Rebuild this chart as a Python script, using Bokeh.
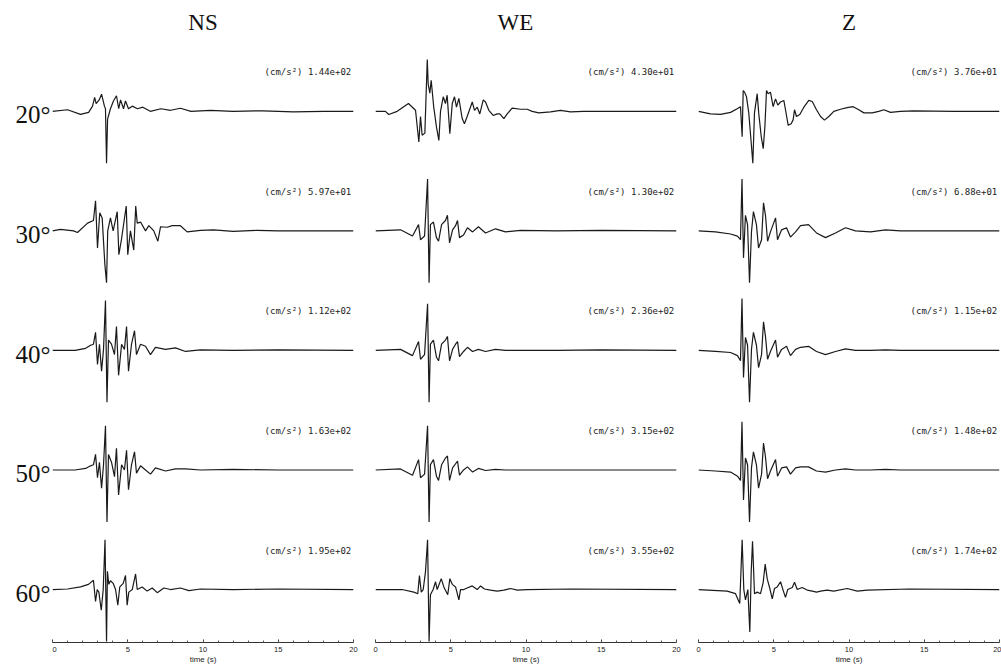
from bokeh.plotting import figure
from bokeh.layouts import row
from bokeh.models import Range1d, FixedTicker
from bokeh.core.properties import value
from bokeh.embed import file_html
from bokeh.resources import INLINE

# ---------------- data ----------------
COMPONENTS = ["NS", "WE", "Z"]
ANGLES = ["20°", "30°", "40°", "50°", "60°"]
TICKS = [0, 5, 10, 15, 20]
UNIT = "(cm/s²)"
NS_PEAKS = ["1.44e+02", "5.97e+01", "1.12e+02", "1.63e+02", "1.95e+02"]
WE_PEAKS = ["4.30e+01", "1.30e+02", "2.36e+02", "3.15e+02", "3.55e+02"]
Z_PEAKS = ["3.76e+01", "6.88e+01", "1.15e+02", "1.48e+02", "1.74e+02"]

# traces: time (s) and amplitude normalised to the peak value
NS20_T = [0, 1.0, 1.86, 2.4, 2.66, 2.8, 2.9, 3.1, 3.26, 3.45, 3.52, 3.59, 3.66, 3.85, 4.05, 4.25, 4.4, 4.52, 4.72, 4.85, 5.05, 5.3, 5.65, 6.0, 6.5, 7.2, 7.85, 8.5, 9.2, 10.5, 12.0, 14.0, 16.0, 18.0, 20.0]
NS20_A = [0, 0.03, -0.06, -0.02, 0.1, 0.27, 0.15, 0.22, 0.33, 0.1, 0.05, -1.0, -0.15, 0.05, 0.2, 0.3, 0.05, 0.22, 0.05, 0.2, 0.05, 0.1, 0.05, 0.08, 0.0, 0.05, 0.02, 0.06, 0.0, 0.02, 0.0, 0.01, -0.01, 0.0, 0.0]
NS30_T = [0, 0.53, 1.4, 1.66, 2.33, 2.72, 2.86, 2.99, 3.14, 3.3, 3.48, 3.59, 3.67, 3.85, 4.03, 4.3, 4.41, 4.58, 4.9, 5.0, 5.18, 5.4, 5.53, 5.63, 5.85, 6.18, 6.4, 6.73, 7.0, 7.18, 7.62, 7.95, 8.5, 8.95, 9.83, 10.7, 12.0, 13.6, 15.0, 17.0, 20.0]
NS30_A = [0, 0.03, 0.0, -0.03, 0.15, 0.2, 0.58, -0.33, 0.35, 0.25, -0.65, -1.0, 0.0, 0.25, 0.0, 0.37, -0.46, -0.17, 0.48, -0.46, 0.0, -0.37, 0.48, 0.15, 0.17, 0.0, 0.1, 0.0, -0.2, 0.08, 0.07, 0.1, 0.1, -0.02, 0.01, 0.02, -0.01, 0.01, 0.0, 0.0, 0.0]
NS40_T = [0, 1.5, 2.2, 2.53, 2.72, 2.86, 2.99, 3.12, 3.26, 3.39, 3.52, 3.62, 3.72, 3.92, 4.12, 4.25, 4.39, 4.59, 4.78, 4.92, 5.05, 5.25, 5.45, 5.58, 5.85, 6.18, 6.51, 6.84, 7.51, 8.17, 8.84, 9.83, 12.0, 15.0, 20.0]
NS40_A = [0, 0.0, 0.04, 0.1, 0.12, 0.35, -0.27, 0.12, -0.4, 0.02, 0.96, -1.0, 0.2, 0.12, -0.08, 0.46, -0.48, 0.12, 0.02, 0.46, -0.4, 0.12, 0.38, -0.08, 0.12, 0.08, -0.08, 0.06, 0.02, 0.05, -0.02, 0.01, 0.0, 0.01, 0.0]
NS50_T = [0, 1.5, 2.2, 2.53, 2.72, 2.86, 2.99, 3.12, 3.26, 3.39, 3.52, 3.62, 3.72, 3.92, 4.12, 4.25, 4.39, 4.59, 4.78, 4.92, 5.05, 5.25, 5.45, 5.58, 5.85, 6.18, 6.51, 6.84, 7.51, 8.17, 8.84, 9.83, 12.0, 15.0, 20.0]
NS50_A = [0, 0.0, 0.03, 0.08, 0.1, 0.3, -0.15, 0.15, -0.35, 0.1, 0.85, -1.0, 0.3, 0.15, -0.13, 0.42, -0.48, 0.1, 0.0, 0.38, -0.38, 0.1, 0.35, -0.06, 0.08, 0.0, -0.08, 0.04, -0.02, 0.02, 0.02, 0.0, 0.01, 0.0, 0.0]
NS60_T = [0, 1.0, 1.86, 2.39, 2.72, 2.86, 2.97, 3.08, 3.24, 3.37, 3.49, 3.59, 3.65, 3.74, 3.85, 4.03, 4.19, 4.34, 4.47, 4.7, 4.85, 4.96, 5.07, 5.3, 5.52, 5.63, 5.96, 6.29, 6.63, 6.96, 7.4, 7.84, 8.5, 9.06, 9.83, 12.0, 15.0, 20.0]
NS60_A = [0, 0.01, 0.05, 0.1, 0.18, -0.23, 0.0, -0.05, -0.4, 0.0, 0.96, -1.0, 0.35, 0.1, 0.17, 0.12, 0.0, -0.3, 0.05, 0.12, 0.27, -0.3, -0.05, 0.0, 0.3, 0.0, 0.05, -0.03, 0.03, -0.06, 0.03, 0.0, 0.03, -0.02, 0.01, 0.0, 0.01, 0.0]

WE20_T = [0, 0.66, 0.88, 1.44, 2.19, 2.66, 2.88, 2.99, 3.1, 3.28, 3.44, 3.5, 3.61, 3.7, 3.87, 4.05, 4.21, 4.32, 4.5, 4.65, 4.76, 4.94, 5.1, 5.25, 5.38, 5.54, 5.76, 5.91, 6.09, 6.43, 6.58, 6.76, 6.93, 7.16, 7.31, 7.53, 7.82, 8.09, 8.26, 8.53, 8.75, 9.08, 9.64, 10.08, 10.41, 10.85, 11.63, 12.29, 12.96, 13.82, 16.0, 20.0]
WE20_A = [0, 0.0, -0.06, 0.0, 0.15, 0.02, -0.59, -0.1, -0.46, -0.42, 1.0, 0.53, 0.35, 0.6, 0.08, -0.3, -0.56, 0.0, 0.28, 0.15, 0.31, -0.43, 0.15, 0.28, 0.08, 0.25, -0.14, -0.24, -0.1, 0.18, 0.02, 0.08, -0.05, 0.22, 0.18, 0.02, -0.08, -0.05, -0.05, -0.14, -0.05, 0.06, 0.04, 0.04, 0.0, -0.03, -0.01, 0.02, -0.01, 0.0, 0.0, 0.0]
WE30_T = [0, 1.66, 2.46, 2.86, 2.99, 3.26, 3.46, 3.56, 3.65, 3.85, 4.05, 4.19, 4.39, 4.65, 4.78, 4.92, 5.12, 5.32, 5.45, 5.58, 5.85, 6.11, 6.45, 6.84, 7.31, 7.97, 8.64, 9.64, 12.0, 15.0, 20.0]
WE30_A = [0, 0.02, -0.1, 0.12, -0.17, -0.1, 1.0, -1.0, 0.12, 0.17, -0.13, -0.2, 0.12, 0.2, 0.3, -0.23, 0.02, 0.1, 0.2, -0.13, -0.08, 0.06, -0.02, 0.08, -0.04, 0.04, -0.02, 0.01, 0.0, 0.01, 0.0]
WE40_T = [0, 1.66, 2.46, 2.86, 2.99, 3.26, 3.46, 3.56, 3.65, 3.85, 4.05, 4.19, 4.39, 4.65, 4.78, 4.92, 5.12, 5.32, 5.45, 5.58, 5.85, 6.11, 6.45, 6.84, 7.31, 7.97, 8.64, 9.64, 12.0, 15.0, 20.0]
WE40_A = [0, 0.02, -0.1, 0.17, -0.17, -0.08, 0.9, -1.0, 0.12, 0.2, -0.13, -0.2, 0.12, 0.2, 0.27, -0.2, 0.02, 0.12, 0.17, -0.12, -0.02, 0.06, -0.02, 0.02, -0.02, 0.02, 0.0, 0.0, 0.0, 0.01, 0.0]
WE50_T = [0, 1.66, 2.46, 2.86, 2.99, 3.26, 3.46, 3.56, 3.65, 3.85, 4.05, 4.19, 4.39, 4.65, 4.78, 4.92, 5.12, 5.32, 5.45, 5.58, 5.85, 6.11, 6.45, 6.84, 7.31, 7.97, 8.64, 9.64, 12.0, 15.0, 20.0]
WE50_A = [0, 0.02, -0.1, 0.2, -0.15, -0.08, 0.85, -1.0, 0.1, 0.2, -0.12, -0.2, 0.1, 0.23, 0.27, -0.2, 0.04, 0.12, 0.17, -0.1, 0.0, 0.06, -0.04, 0.03, -0.01, 0.01, 0.0, 0.0, 0.0, 0.0, 0.0]
WE60_T = [0, 1.77, 2.55, 2.81, 2.92, 3.04, 3.17, 3.32, 3.46, 3.56, 3.65, 3.83, 3.99, 4.1, 4.37, 4.54, 4.8, 4.94, 5.1, 5.32, 5.54, 5.65, 5.87, 6.09, 6.43, 6.76, 6.98, 7.24, 7.64, 8.09, 8.53, 8.97, 9.42, 10.08, 13.0, 20.0]
WE60_A = [0, 0.0, -0.05, -0.08, 0.27, -0.05, 0.0, 0.34, 0.96, -1.0, -0.1, 0.0, 0.15, 0.0, 0.21, 0.05, -0.1, 0.21, 0.1, 0.05, -0.2, 0.0, 0.0, 0.03, 0.07, 0.0, 0.07, 0.01, -0.01, -0.03, -0.01, 0.02, -0.01, 0.0, 0.01, 0.0]

Z20_T = [0, 0.8, 1.46, 2.13, 2.57, 2.79, 2.9, 2.97, 3.06, 3.19, 3.34, 3.5, 3.61, 3.72, 3.9, 4.0, 4.17, 4.3, 4.41, 4.52, 4.63, 4.78, 4.96, 5.12, 5.27, 5.45, 5.67, 5.78, 5.96, 6.16, 6.29, 6.38, 6.51, 6.73, 7.0, 7.33, 7.56, 7.84, 8.11, 8.37, 8.66, 8.99, 9.44, 9.88, 10.28, 10.65, 10.99, 11.54, 11.98, 12.31, 12.76, 13.42, 14.29, 17.0, 20.0]
Z20_A = [0, -0.05, -0.06, -0.02, 0.05, 0.09, -0.49, 0.4, 0.37, 0.28, -0.03, -0.6, -1.0, -0.03, 0.34, -0.03, -0.49, -0.72, -0.3, 0.4, 0.34, 0.37, 0.09, 0.24, 0.12, 0.18, 0.21, 0.03, -0.27, -0.24, -0.16, 0.03, -0.1, -0.06, 0.08, 0.21, 0.19, 0.03, -0.1, -0.17, -0.1, 0.0, 0.04, 0.07, 0.09, 0.03, -0.03, -0.03, 0.0, 0.03, -0.02, 0.0, 0.01, 0.0, 0.0]
Z30_T = [0, 1.13, 2.13, 2.59, 2.79, 2.89, 2.99, 3.12, 3.26, 3.39, 3.52, 3.65, 3.85, 3.99, 4.19, 4.32, 4.45, 4.59, 4.78, 5.12, 5.25, 5.52, 5.85, 6.11, 6.45, 6.78, 7.31, 7.84, 8.44, 9.1, 9.77, 10.43, 11.43, 12.43, 13.42, 20.0]
Z30_A = [0, -0.02, -0.06, -0.1, -0.17, 1.0, -0.52, 0.3, 0.12, -1.0, -0.02, 0.37, 0.12, -0.33, -0.17, 0.54, 0.3, -0.2, -0.02, 0.25, -0.17, 0.02, 0.06, -0.12, -0.02, 0.1, 0.12, -0.04, -0.13, -0.04, 0.06, 0.0, -0.02, 0.02, 0.0, 0.0]
Z40_T = [0, 1.13, 2.13, 2.59, 2.79, 2.89, 2.99, 3.12, 3.26, 3.39, 3.52, 3.65, 3.85, 3.99, 4.19, 4.32, 4.45, 4.59, 4.78, 5.12, 5.25, 5.52, 5.85, 6.11, 6.45, 6.78, 7.31, 7.84, 8.44, 9.1, 9.77, 10.43, 11.43, 12.43, 13.42, 20.0]
Z40_A = [0, -0.02, -0.04, -0.1, -0.2, 1.0, -0.52, 0.25, 0.1, -1.0, 0.02, 0.35, 0.1, -0.33, -0.08, 0.55, 0.27, -0.17, -0.02, 0.2, -0.13, 0.02, 0.08, -0.1, 0.02, 0.06, 0.08, -0.02, -0.08, -0.02, 0.03, 0.0, 0.0, 0.01, 0.0, 0.0]
Z50_T = [0, 1.13, 2.13, 2.59, 2.79, 2.89, 2.99, 3.12, 3.26, 3.39, 3.52, 3.65, 3.85, 3.99, 4.19, 4.32, 4.45, 4.59, 4.78, 5.12, 5.25, 5.52, 5.85, 6.11, 6.45, 6.78, 7.31, 7.84, 8.44, 9.1, 9.77, 10.43, 11.43, 12.43, 13.42, 20.0]
Z50_A = [0, -0.02, -0.04, -0.12, -0.2, 0.93, -0.58, 0.23, 0.1, -1.0, 0.04, 0.35, 0.1, -0.35, -0.08, 0.52, 0.25, -0.17, -0.02, 0.2, -0.12, 0.04, 0.06, -0.08, 0.04, 0.06, 0.06, -0.02, -0.04, 0.0, 0.02, 0.0, 0.0, 0.01, 0.0, 0.0]
Z60_T = [0, 1.91, 2.46, 2.74, 2.9, 3.01, 3.12, 3.28, 3.41, 3.5, 3.59, 3.72, 3.9, 4.12, 4.3, 4.43, 4.57, 4.74, 4.9, 5.05, 5.23, 5.45, 5.63, 5.78, 5.93, 6.23, 6.38, 6.56, 6.89, 7.22, 7.56, 7.84, 8.11, 8.55, 8.99, 9.88, 10.55, 11.21, 14.0, 20.0]
Z60_A = [0, -0.03, -0.08, -0.27, 0.96, 0.0, -0.2, 0.0, -0.82, 0.33, 0.93, -0.08, -0.05, -0.08, 0.14, 0.49, 0.2, 0.02, -0.18, 0.02, 0.05, 0.15, -0.02, -0.15, 0.0, 0.04, 0.14, 0.0, 0.04, -0.01, -0.03, -0.05, -0.03, -0.01, -0.03, 0.02, -0.03, -0.01, 0.01, 0.0]

NS_TRACES = [(NS20_T, NS20_A), (NS30_T, NS30_A), (NS40_T, NS40_A), (NS50_T, NS50_A), (NS60_T, NS60_A)]
WE_TRACES = [(WE20_T, WE20_A), (WE30_T, WE30_A), (WE40_T, WE40_A), (WE50_T, WE50_A), (WE60_T, WE60_A)]
Z_TRACES = [(Z20_T, Z20_A), (Z30_T, Z30_A), (Z40_T, Z40_A), (Z50_T, Z50_A), (Z60_T, Z60_A)]

# ---------------- layout / style ----------------
H = 666
BOTTOM = 23
Y0, Y1 = -0.443, 4.927
SCALE = 0.434          # trace height of a normalised amplitude of 1
TITLE_Y = 4.743
LINE_COLOR = "#1a1a1a"
SANS = "Liberation Sans"
MONO = "DejaVu Sans Mono"
SERIF = "Liberation Serif"


def style_axis(p, hidden=False):
    ax = p.xaxis[0]
    ax.ticker = FixedTicker(ticks=TICKS, minor_ticks=list(range(0, 21)))
    ax.major_tick_in = 3
    ax.major_tick_out = 0
    ax.minor_tick_in = 2
    ax.minor_tick_out = 0
    ax.major_label_standoff = 4
    ax.major_label_text_font = SANS
    ax.major_label_text_font_size = "7.5px"
    ax.major_label_text_color = "#222222"
    ax.axis_label = "time (s)"
    ax.axis_label_text_font = SANS
    ax.axis_label_text_font_size = "8px"
    ax.axis_label_text_font_style = "normal"
    ax.axis_label_text_color = "#222222"
    ax.axis_label_standoff = 0
    ax.axis_line_color = "#333333"
    ax.major_tick_line_color = "#333333"
    ax.minor_tick_line_color = "#555555"
    if hidden:
        ax.axis_line_color = None
        ax.major_tick_line_color = None
        ax.minor_tick_line_color = None
        ax.major_label_text_alpha = 0
        ax.axis_label_text_alpha = 0


def base_fig(width, left, right, xr):
    p = figure(width=width, height=H, x_range=xr, y_range=Range1d(Y0, Y1),
               output_backend="svg", toolbar_location=None, title=None,
               y_axis_location=None, min_border_left=left, min_border_right=right,
               min_border_top=0, min_border_bottom=BOTTOM)
    p.outline_line_color = None
    p.xgrid.visible = False
    p.ygrid.visible = False
    p.background_fill_color = "white"
    p.border_fill_color = "white"
    return p


def panel(traces, peaks, title, title_t, width, left, right):
    p = base_fig(width, left, right, Range1d(0, 20))
    style_axis(p)
    for i, (t, a) in enumerate(traces):
        base = 4 - i
        p.line(t, [base + v * SCALE for v in a], line_color=LINE_COLOR, line_width=1.2)
        p.text(x=[19.85], y=[base + 0.326], text=[UNIT + " " + peaks[i]],
               text_align="right", text_baseline="middle",
               text_font=value(MONO), text_font_size="9px", text_color="#222222")
    p.text(x=[title_t], y=[TITLE_Y], text=[title], text_align="center",
           text_baseline="middle", text_font=value(SERIF), text_font_size="23px",
           text_color="#111111")
    return p


labels = base_fig(52, 0, 0, Range1d(0, 52))
style_axis(labels, hidden=True)
labels.text(x=[50] * len(ANGLES), y=[4 - i - 0.03 for i in range(len(ANGLES))], text=ANGLES,
            text_align="right", text_baseline="middle", text_font=value(SERIF),
            text_font_size="25px", text_color="#111111")

f_ns = panel(NS_TRACES, NS_PEAKS, COMPONENTS[0], 10.0, 312, 0, 11)
f_we = panel(WE_TRACES, WE_PEAKS, COMPONENTS[1], 9.3, 323, 11, 11)
f_z = panel(Z_TRACES, Z_PEAKS, COMPONENTS[2], 10.0, 314, 11, 2)

layout = row(labels, f_ns, f_we, f_z)
open("out.html", "w").write(file_html(layout, INLINE))
